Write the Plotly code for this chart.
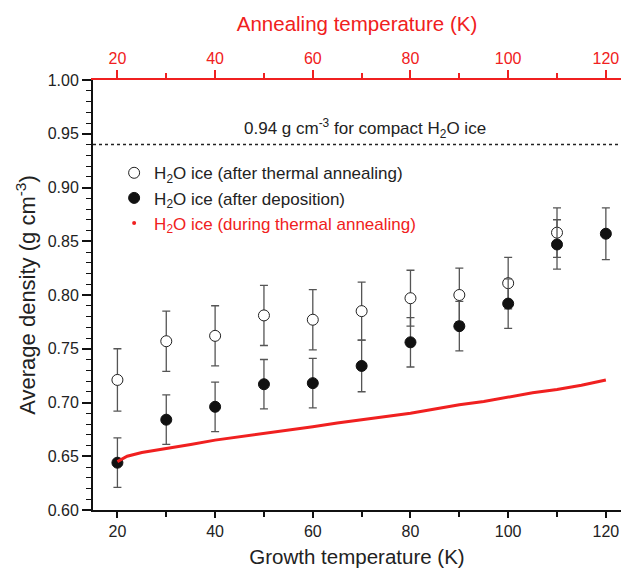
import plotly.graph_objects as go

# Growth temperature (K)
growth_T = [20, 30, 40, 50, 60, 70, 80, 90, 100, 110, 120]
# Density after thermal annealing (open circles) — none at 120 K
annealed_T = [20, 30, 40, 50, 60, 70, 80, 90, 100, 110]
annealed_rho = [0.721, 0.757, 0.762, 0.781, 0.777, 0.785, 0.797, 0.800, 0.811, 0.858]
annealed_err = [0.029, 0.028, 0.028, 0.028, 0.028, 0.027, 0.026, 0.025, 0.024, 0.023]
# Density after deposition (filled circles)
deposited_rho = [0.644, 0.684, 0.696, 0.717, 0.718, 0.734, 0.756, 0.771, 0.792, 0.847, 0.857]
deposited_err = [0.023, 0.023, 0.023, 0.023, 0.023, 0.024, 0.023, 0.023, 0.023, 0.023, 0.024]
# Density during thermal annealing (red) vs annealing temperature
anneal_T = [20, 22, 25, 30, 35, 40, 45, 50, 55, 60, 65, 70, 75, 80, 85, 90, 95, 100, 105, 110, 115, 120]
anneal_rho = [0.645, 0.650, 0.6535, 0.657, 0.661, 0.665, 0.668, 0.671, 0.674, 0.6775, 0.681,
              0.684, 0.687, 0.690, 0.694, 0.698, 0.701, 0.705, 0.709, 0.712, 0.716, 0.721]
compact_rho = 0.94

FONT = "Liberation Sans, Arial, sans-serif"
RED = "#f02020"
ERR = "#555555"

fig = go.Figure()

fig.add_trace(go.Scatter(
    x=annealed_T, y=annealed_rho, mode="markers",
    name="H<sub>2</sub>O ice (after thermal annealing)",
    marker=dict(symbol="circle", size=11, color="white", line=dict(color="#222", width=1)),
    error_y=dict(type="data", array=annealed_err, color=ERR, thickness=1.3, width=4),
))
fig.add_trace(go.Scatter(
    x=growth_T, y=deposited_rho, mode="markers",
    name="H<sub>2</sub>O ice (after deposition)",
    marker=dict(symbol="circle", size=11, color="#111", line=dict(color="#111", width=1)),
    error_y=dict(type="data", array=deposited_err, color=ERR, thickness=1.3, width=4),
))
fig.add_trace(go.Scatter(
    x=anneal_T, y=anneal_rho, mode="lines", xaxis="x2",
    line=dict(color=RED, width=3), showlegend=False, hoverinfo="skip",
))
fig.add_trace(go.Scatter(
    x=[None], y=[None], mode="markers", xaxis="x2",
    name="<span style='color:#f02020'>H<sub>2</sub>O ice (during thermal annealing)</span>",
    marker=dict(symbol="circle", size=4, color=RED),
))

# compact ice reference line
fig.add_shape(type="line", xref="paper", x0=0, x1=1, yref="y", y0=compact_rho, y1=compact_rho,
              line=dict(color="#222", width=1.5, dash="dot"))
fig.add_annotation(x=70.7, y=0.955, xref="x", yref="y", showarrow=False,
                   text="0.94 g cm<sup>-3</sup> for compact H<sub>2</sub>O ice",
                   font=dict(size=17, color="#222", family=FONT))

xr = [15, 123.1]
fig.update_layout(
    width=621, height=573,
    margin=dict(l=93, r=0, t=80, b=63),
    paper_bgcolor="white", plot_bgcolor="white",
    font=dict(family=FONT, size=16, color="#222"),
    showlegend=True,
    legend=dict(x=0.04, y=0.825, xanchor="left", yanchor="top", bgcolor="rgba(0,0,0,0)",
                font=dict(size=17, color="#222"), tracegroupgap=0, itemwidth=30),
    xaxis=dict(
        range=xr, tickvals=[20, 40, 60, 80, 100, 120], ticks="outside", ticklen=6, tickwidth=1.5,
        tickcolor="#111", showline=True, linecolor="#111", linewidth=2, showgrid=False, zeroline=False,
        minor=dict(tickvals=[30, 50, 70, 90, 110], ticks="outside", ticklen=5, tickwidth=1.5, tickcolor="#111"),
        title=dict(text="Growth temperature (K)", font=dict(size=20.5, color="#222"), standoff=10),
        tickfont=dict(size=16, color="#222"),
    ),
    xaxis2=dict(
        range=xr, overlaying="x", side="top", tickvals=[20, 40, 60, 80, 100, 120],
        ticks="outside", ticklen=8, tickwidth=1.5, tickcolor=RED,
        showline=True, linecolor=RED, linewidth=2, showgrid=False, zeroline=False,
        minor=dict(tickvals=[30, 50, 70, 90, 110], ticks="outside", ticklen=5, tickwidth=1.5, tickcolor=RED),
        title=dict(text="Annealing temperature (K)", font=dict(size=20.5, color=RED), standoff=12),
        tickfont=dict(size=16, color=RED),
    ),
    yaxis=dict(
        range=[0.6, 1.0], tickvals=[0.60, 0.65, 0.70, 0.75, 0.80, 0.85, 0.90, 0.95, 1.00],
        tickformat=".2f", ticks="outside", ticklen=9, tickwidth=1.5, tickcolor="#111",
        showline=True, linecolor="#111", linewidth=2, showgrid=False, zeroline=False,
        minor=dict(dtick=0.01, ticks="outside", ticklen=5, tickwidth=1.2, tickcolor="#111"),
        title=dict(text="Average density (g cm<sup>-3</sup>)", font=dict(size=22, color="#222"), standoff=6),
        tickfont=dict(size=16, color="#222"),
    ),
)

fig.write_html("out.html")
